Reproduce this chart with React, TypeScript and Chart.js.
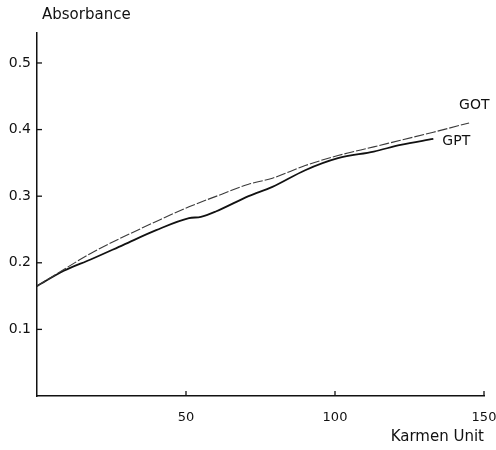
import React, { useEffect, useRef } from "react";
import { Chart, registerables } from "chart.js";

Chart.register(...registerables);

const gotX = [0, 9, 18, 29, 40, 51, 62, 71, 79, 90, 101, 113, 122, 133, 145];
const gotY = [0.165, 0.19, 0.214, 0.239, 0.262, 0.284, 0.303, 0.318, 0.327, 0.346, 0.361, 0.374, 0.384, 0.396, 0.41];
const gptX = [0, 9, 18, 29, 40, 51, 55, 60, 71, 79, 90, 101, 113, 122, 133];
const gptY = [0.165, 0.188, 0.205, 0.227, 0.249, 0.267, 0.269, 0.277, 0.3, 0.314, 0.339, 0.357, 0.367, 0.377, 0.386];
const xTicks = [50, 100, 150];
const yTicks = [0.1, 0.2, 0.3, 0.4, 0.5];
const seriesNames = ["GOT", "GPT"];
const yTitle = "Absorbance";
const xTitle = "Karmen Unit";

const FONT = "'DejaVu Sans', sans-serif";

const decorPlugin = {
  id: "decor",
  afterDraw(chart: any) {
    const ctx = chart.ctx;
    const x = chart.scales.x;
    const y = chart.scales.y;
    const area = chart.chartArea;
    ctx.save();
    ctx.strokeStyle = "#111";
    ctx.lineWidth = 1.3;
    yTicks.forEach((v) => {
      const py = y.getPixelForValue(v);
      ctx.beginPath();
      ctx.moveTo(area.left, py);
      ctx.lineTo(area.left + 5, py);
      ctx.stroke();
    });
    xTicks.forEach((v) => {
      const px = x.getPixelForValue(v);
      ctx.beginPath();
      ctx.moveTo(px, area.bottom);
      ctx.lineTo(px, area.bottom - 5);
      ctx.stroke();
    });
    ctx.fillStyle = "#111";
    ctx.font = `15px ${FONT}`;
    ctx.textAlign = "left";
    ctx.textBaseline = "middle";
    ctx.fillText(yTitle, area.left + 5, 15);
    ctx.font = `14px ${FONT}`;
    chart.data.datasets.forEach((ds: any, i: number) => {
      const meta = chart.getDatasetMeta(i);
      const last = meta.data[meta.data.length - 1];
      if (!last) return;
      ctx.textAlign = "left";
      if (i === 0) {
        ctx.fillText(ds.label, last.x - 10, last.y - 18);
      } else {
        ctx.fillText(ds.label, last.x + 9, last.y + 2);
      }
    });
    ctx.restore();
  },
};

export default function App() {
  const ref = useRef<HTMLCanvasElement | null>(null);
  useEffect(() => {
    document.body.style.margin = "0";
    const canvas = ref.current;
    if (!canvas) return;
    const chart = new Chart(canvas, {
      type: "line",
      data: {
        datasets: [
          {
            label: seriesNames[0],
            data: gotX.map((x, i) => ({ x, y: gotY[i] })),
            borderColor: "#3a3a3a",
            borderWidth: 1.1,
            borderDash: [10, 2],
            pointRadius: 0,
            cubicInterpolationMode: "monotone",
            fill: false,
          },
          {
            label: seriesNames[1],
            data: gptX.map((x, i) => ({ x, y: gptY[i] })),
            borderColor: "#111",
            borderWidth: 1.8,
            pointRadius: 0,
            cubicInterpolationMode: "monotone",
            fill: false,
          },
        ],
      },
      options: {
        animation: false,
        responsive: true,
        maintainAspectRatio: false,
        layout: { padding: { top: 33, right: 0, left: 0, bottom: 0 } },
        plugins: { legend: { display: false }, tooltip: { enabled: false }, title: { display: false } },
        scales: {
          x: {
            type: "linear",
            min: 0,
            max: 150,
            grid: { display: true, drawOnChartArea: false, drawTicks: false },
            border: { display: true, color: "#111", width: 1.5 },
            afterBuildTicks: (s: any) => {
              s.ticks = xTicks.map((v) => ({ value: v }));
            },
            afterFit: (s: any) => {
              s.height = 54;
              s.paddingRight = 12;
              s.paddingLeft = 0;
            },
            ticks: {
              color: "#111",
              padding: 14,
              font: { family: FONT, size: 13 },
              maxRotation: 0,
              callback: (v: any) => String(v),
            },
            title: {
              display: true,
              text: xTitle,
              align: "end",
              color: "#111",
              font: { family: FONT, size: 15 },
              padding: { top: 0, bottom: 4 },
            },
          },
          y: {
            type: "linear",
            min: 0,
            max: 0.545,
            grid: { display: true, drawOnChartArea: false, drawTicks: false },
            border: { display: true, color: "#111", width: 1.5 },
            afterBuildTicks: (s: any) => {
              s.ticks = yTicks.map((v) => ({ value: v }));
            },
            afterFit: (s: any) => {
              s.width = 37;
            },
            ticks: {
              color: "#111",
              padding: 6,
              font: { family: FONT, size: 14 },
              callback: (v: any) => Number(v).toFixed(1),
            },
          },
        },
      },
      plugins: [decorPlugin],
    } as any);
    return () => chart.destroy();
  }, []);
  return (
    <div style={{ width: 496, height: 450, position: "relative", background: "#fff" }}>
      <canvas ref={ref} />
    </div>
  );
}
